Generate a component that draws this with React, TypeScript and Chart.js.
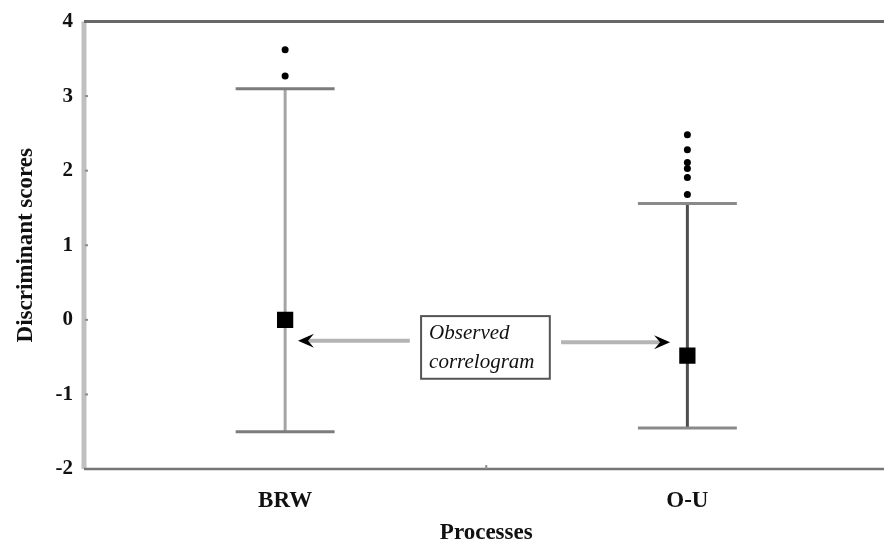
import React, { useEffect, useRef } from 'react';
import { Chart, registerables } from 'chart.js';

Chart.register(...registerables);

// ---- data ----
const CATEGORIES = ['BRW', 'O-U'];
const MEANS = [0.0, -0.48];
const UPPER = [3.1, 1.56];
const LOWER = [-1.5, -1.45];
const OUTLIERS_BRW = [3.62, 3.27];
const OUTLIERS_OU = [2.48, 2.28, 2.11, 2.03, 1.91, 1.68];
const Y_TICKS = [-2, -1, 0, 1, 2, 3, 4];
const Y_TITLE = 'Discriminant scores';
const X_TITLE = 'Processes';
const NOTE_LINES = ['Observed', 'correlogram'];
// annotation geometry in data coordinates
const NOTE_BOX = { x0: 0.338, x1: 0.658, y0: 0.05, y1: -0.79 };
const ARROW_LEFT = { from: [0.31, -0.28], to: [0.032, -0.28] };
const ARROW_RIGHT = { from: [0.686, -0.3], to: [0.957, -0.3] };

// ---- styles ----
const FONT_FAMILY = '"Liberation Serif", "Times New Roman", serif';
const CAP_HALF = 0.123;
const WHISKER_COLORS = ['#a4a4a4', '#4e4e4e'];
const CAP_COLORS = ['#7c7c7c', '#8a8a8a'];

function drawArrow(ctx: CanvasRenderingContext2D, x0: number, y0: number, x1: number, y1: number) {
  const dir = Math.sign(x1 - x0);
  const headLen = 16;
  ctx.strokeStyle = '#b4b4b4';
  ctx.lineWidth = 4;
  ctx.beginPath();
  ctx.moveTo(x0, y0);
  ctx.lineTo(x1 - dir * 10, y1);
  ctx.stroke();
  ctx.fillStyle = '#000';
  ctx.beginPath();
  ctx.moveTo(x1, y1);
  ctx.lineTo(x1 - dir * headLen, y1 - 7);
  ctx.lineTo(x1 - dir * (headLen - 6), y1);
  ctx.lineTo(x1 - dir * headLen, y1 + 7);
  ctx.closePath();
  ctx.fill();
}

const customPlugin = {
  id: 'customDraw',
  beforeDatasetsDraw(chart: any) {
    const { ctx, chartArea: a, scales } = chart;
    const x = scales.x;
    const y = scales.y;
    ctx.save();
    // frame
    ctx.lineCap = 'butt';
    ctx.strokeStyle = '#c0c0c0';
    ctx.lineWidth = 5;
    ctx.beginPath();
    ctx.moveTo(a.left, a.top);
    ctx.lineTo(a.left, a.bottom);
    ctx.stroke();
    ctx.strokeStyle = '#686868';
    ctx.lineWidth = 3;
    ctx.beginPath();
    ctx.moveTo(a.left, a.top);
    ctx.lineTo(a.right, a.top);
    ctx.stroke();
    ctx.strokeStyle = '#767676';
    ctx.lineWidth = 2.5;
    ctx.beginPath();
    ctx.moveTo(a.left, a.bottom);
    ctx.lineTo(a.right, a.bottom);
    ctx.stroke();
    // inner tick marks
    ctx.strokeStyle = '#8c8c8c';
    ctx.lineWidth = 2;
    Y_TICKS.slice(1, -1).forEach((v) => {
      const py = y.getPixelForValue(v);
      ctx.beginPath();
      ctx.moveTo(a.left + 1, py);
      ctx.lineTo(a.left + 4, py);
      ctx.stroke();
    });
    for (let i = 0; i < CATEGORIES.length - 1; i++) {
      const px = x.getPixelForValue(i + 0.5);
      ctx.beginPath();
      ctx.moveTo(px, a.bottom - 4);
      ctx.lineTo(px, a.bottom);
      ctx.stroke();
    }
    // whiskers
    CATEGORIES.forEach((_, i) => {
      const px = x.getPixelForValue(i);
      ctx.strokeStyle = WHISKER_COLORS[i];
      ctx.lineWidth = 3;
      ctx.beginPath();
      ctx.moveTo(px, y.getPixelForValue(UPPER[i]));
      ctx.lineTo(px, y.getPixelForValue(LOWER[i]));
      ctx.stroke();
      ctx.strokeStyle = CAP_COLORS[i];
      [UPPER[i], LOWER[i]].forEach((v) => {
        const py = y.getPixelForValue(v);
        ctx.beginPath();
        ctx.moveTo(x.getPixelForValue(i - CAP_HALF), py);
        ctx.lineTo(x.getPixelForValue(i + CAP_HALF), py);
        ctx.stroke();
      });
    });
    ctx.restore();
  },
  afterDatasetsDraw(chart: any) {
    const { ctx, scales } = chart;
    const x = scales.x;
    const y = scales.y;
    ctx.save();
    // annotation box
    const bx0 = x.getPixelForValue(NOTE_BOX.x0);
    const bx1 = x.getPixelForValue(NOTE_BOX.x1);
    const by0 = y.getPixelForValue(NOTE_BOX.y0);
    const by1 = y.getPixelForValue(NOTE_BOX.y1);
    ctx.fillStyle = '#fff';
    ctx.fillRect(bx0, by0, bx1 - bx0, by1 - by0);
    ctx.strokeStyle = '#555';
    ctx.lineWidth = 2;
    ctx.strokeRect(bx0, by0, bx1 - bx0, by1 - by0);
    ctx.fillStyle = '#111';
    ctx.font = 'italic 21px ' + FONT_FAMILY;
    ctx.textAlign = 'left';
    ctx.textBaseline = 'middle';
    const cy = (by0 + by1) / 2;
    ctx.fillText(NOTE_LINES[0], bx0 + 8, cy - 14);
    ctx.fillText(NOTE_LINES[1], bx0 + 8, cy + 15);
    // arrows
    drawArrow(
      ctx,
      x.getPixelForValue(ARROW_LEFT.from[0]),
      y.getPixelForValue(ARROW_LEFT.from[1]),
      x.getPixelForValue(ARROW_LEFT.to[0]),
      y.getPixelForValue(ARROW_LEFT.to[1])
    );
    drawArrow(
      ctx,
      x.getPixelForValue(ARROW_RIGHT.from[0]),
      y.getPixelForValue(ARROW_RIGHT.from[1]),
      x.getPixelForValue(ARROW_RIGHT.to[0]),
      y.getPixelForValue(ARROW_RIGHT.to[1])
    );
    ctx.restore();
  },
};

export default function App() {
  const ref = useRef<HTMLCanvasElement>(null);
  useEffect(() => {
    const chart = new Chart(ref.current as HTMLCanvasElement, {
      type: 'scatter',
      data: {
        datasets: [
          {
            data: MEANS.map((m, i) => ({ x: i, y: m })),
            pointStyle: 'rect',
            pointRadius: 11.5,
            backgroundColor: '#000',
            borderColor: '#000',
            borderWidth: 0,
          },
          {
            data: OUTLIERS_BRW.map((v) => ({ x: 0, y: v })),
            pointRadius: 3.5,
            backgroundColor: '#000',
            borderWidth: 0,
          },
          {
            data: OUTLIERS_OU.map((v) => ({ x: 1, y: v })),
            pointRadius: 3.5,
            backgroundColor: '#000',
            borderWidth: 0,
          },
        ],
      },
      options: {
        responsive: false,
        animation: false,
        layout: { padding: { left: 0, right: 5, top: 20, bottom: 0 } },
        plugins: { legend: { display: false }, tooltip: { enabled: false } },
        scales: {
          x: {
            type: 'linear',
            min: -0.5,
            max: 1.5,
            afterBuildTicks: (s: any) => {
              s.ticks = CATEGORIES.map((_, i) => ({ value: i }));
            },
            afterFit: (s: any) => {
              s.height = 72;
            },
            ticks: {
              callback: (v: any) => CATEGORIES[v] ?? '',
              font: { family: FONT_FAMILY, size: 23, weight: 'bold', lineHeight: 1 },
              color: '#111',
              padding: 21,
              maxRotation: 0,
            },
            grid: { display: false, drawTicks: false },
            border: { display: false },
            title: {
              display: true,
              text: X_TITLE,
              font: { family: FONT_FAMILY, size: 23, weight: 'bold', lineHeight: 1 },
              color: '#111',
              padding: { top: 0, bottom: -4 },
            },
          },
          y: {
            min: -2,
            max: 4,
            afterBuildTicks: (s: any) => {
              s.ticks = Y_TICKS.map((v) => ({ value: v }));
            },
            afterFit: (s: any) => {
              s.width = 84;
            },
            ticks: {
              font: { family: FONT_FAMILY, size: 21, weight: 'bold', lineHeight: 1 },
              color: '#111',
              padding: 11,
            },
            grid: { display: false, drawTicks: false },
            border: { display: false },
            title: {
              display: true,
              text: Y_TITLE,
              font: { family: FONT_FAMILY, size: 23, weight: 'bold', lineHeight: 1 },
              color: '#111',
              padding: { top: 15, bottom: 0 },
            },
          },
        },
      },
      plugins: [customPlugin],
    } as any);
    return () => chart.destroy();
  }, []);
  return (
    <div
      style={{
        position: 'absolute',
        left: 0,
        top: 0,
        width: 884,
        height: 541,
        overflow: 'hidden',
        background: '#fff',
      }}
    >
      <canvas ref={ref} width={900} height={541} style={{ display: 'block' }} />
    </div>
  );
}
